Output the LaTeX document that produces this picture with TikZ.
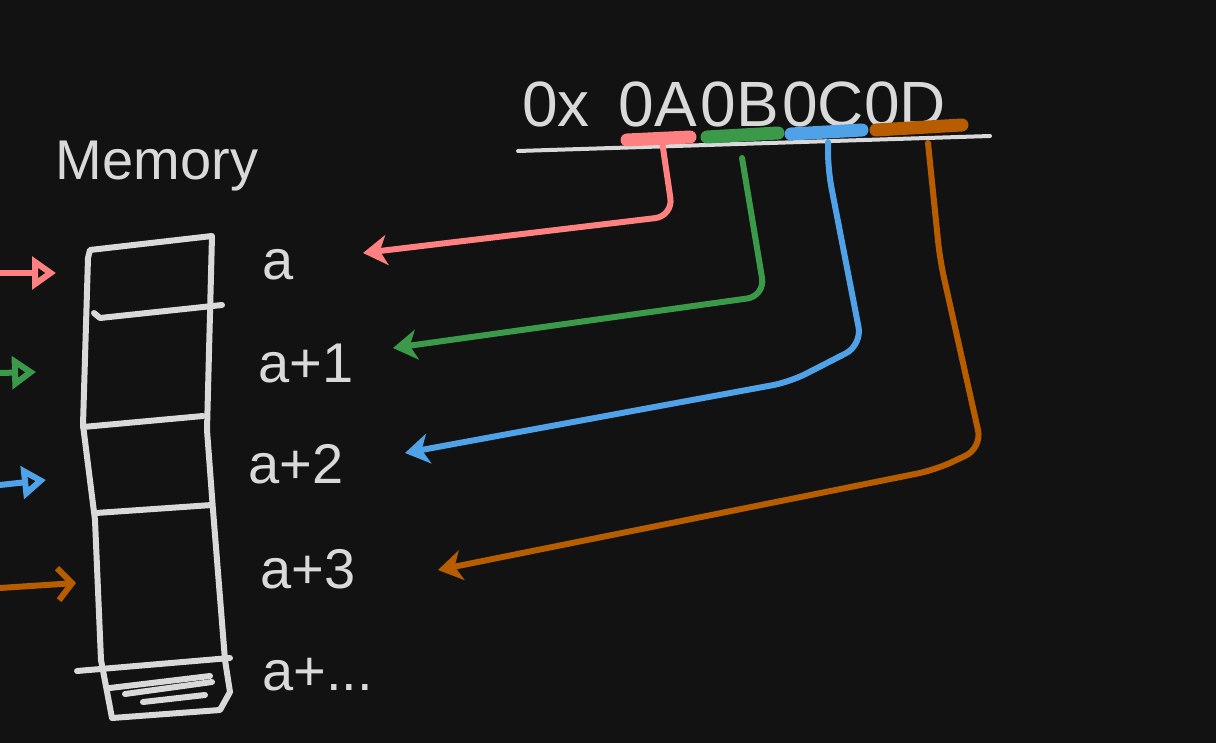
\documentclass[tikz,border=0pt]{standalone}
\usepackage{fontspec}
\setmainfont{Liberation Sans}
\usetikzlibrary{arrows.meta}

\definecolor{bg}{HTML}{121212}
\definecolor{chalk}{HTML}{D9D9D9}
\definecolor{bytepink}{HTML}{FF8080}
\definecolor{bytegreen}{HTML}{3A9A4A}
\definecolor{byteblue}{HTML}{50A2E8}
\definecolor{byteorange}{HTML}{B85C00}

\tikzset{
  pen/.style={line width=6pt, line cap=round, line join=round},
  bytebar/.style={line width=13pt, line cap=round},
  link/.style={pen, rounded corners=18pt, -{Stealth[length=24pt,width=30pt,inset=7pt]}},
  inarrow/.style={pen, -{Triangle[open,length=24pt,width=32pt]}},
  hexd/.style={text=chalk, inner sep=0pt, anchor=base, font=\fontsize{64}{66}\selectfont},
  lbl/.style={text=chalk, inner sep=0pt, anchor=base west, font=\fontsize{56}{60}\selectfont}
}

\begin{document}
\begin{tikzpicture}[x=1pt,y=-1pt]
\fill[bg] (0,0) rectangle (1216,743);
\useasboundingbox (0,0) rectangle (1216,743);

% title
\node[text=chalk, inner sep=0pt, anchor=base, font=\fontsize{56}{58}\selectfont] (mem) at (157,180) {Memory};

% the number
\node[hexd] (hx) at (556,127) {0x};
\node[hexd] (bA) at (658,127) {0A};
\node[hexd] (bB) at (740,127) {0B};
\node[hexd] (bC) at (823,127) {0C};
\node[hexd] (bD) at (905,127) {0D};

\draw[chalk, line width=4pt, line cap=round] (518,151) -- (990,136);
\draw[bytebar, bytepink] (627,140) -- (690,137);
\draw[bytebar, bytegreen] (707,137) -- (778,133);
\draw[bytebar, byteblue] (791,134) -- (862,130);
\draw[bytebar, byteorange] (876,130) -- (962,125);

% memory column
\draw[pen, chalk] (90,250) -- (212,236) -- (207,430) -- (213,510) -- (225,660)
  -- (230,692) -- (220,710) -- (112,718) -- (101,660) -- (95,520) -- (83,425)
  -- (88,258) -- cycle;
\draw[pen, chalk] (94,313) -- (100,318) -- (222,305);
\draw[pen, chalk] (83,427) -- (203,416);
\draw[pen, chalk] (96,513) -- (212,505);
\draw[pen, chalk] (77,671) -- (230,658);
\draw[pen, chalk] (110,688) -- (210,676);
\draw[pen, chalk] (125,694) -- (212,682);
\draw[pen, chalk] (143,702) -- (205,695);

% addresses
\node[lbl] (la) at (262,280) {a};
\node[lbl] (lb) at (258,383) {a+1};
\node[lbl] (lc) at (248,483) {a+2};
\node[lbl] (ld) at (260,588) {a+3};
\node[lbl] (le) at (262,690) {a+...};

% where the bytes go
\coordinate (sA) at (662,141);
\coordinate (sB) at (742,158);
\coordinate (sC) at (828,142);
\coordinate (sD) at (928,143);
\coordinate (tA) at (363,253);
\coordinate (tB) at (393,348);
\coordinate (tC) at (405,453);
\coordinate (tD) at (438,570);

\draw[link, bytepink] (sA) -- (673,216) -- (tA);
\draw[link, bytegreen] (sB) -- (765,296) -- (tB);
\draw[link, byteblue] (sC) -- (828,170) -- (862,345) -- (790,382) -- (tC);
\draw[link, byteorange] (sD) -- (940,260) -- (982,448) -- (935,470) -- (tD);

% arrows into the column
\coordinate (iA) at (0,273);
\coordinate (iB) at (0,373);
\coordinate (iC) at (0,485);
\coordinate (iD) at (0,588);
\coordinate (jA) at (56,273);
\coordinate (jB) at (36,372);
\coordinate (jC) at (46,480);
\coordinate (jD) at (76,583);

\draw[inarrow, bytepink] (iA) -- (jA);
\draw[inarrow, bytegreen] (iB) -- (jB);
\draw[inarrow, byteblue] (iC) -- (jC);
\draw[pen, byteorange, -{Straight Barb[length=14pt,width=32pt]}] (iD) -- (jD);

\end{tikzpicture}
\end{document}
